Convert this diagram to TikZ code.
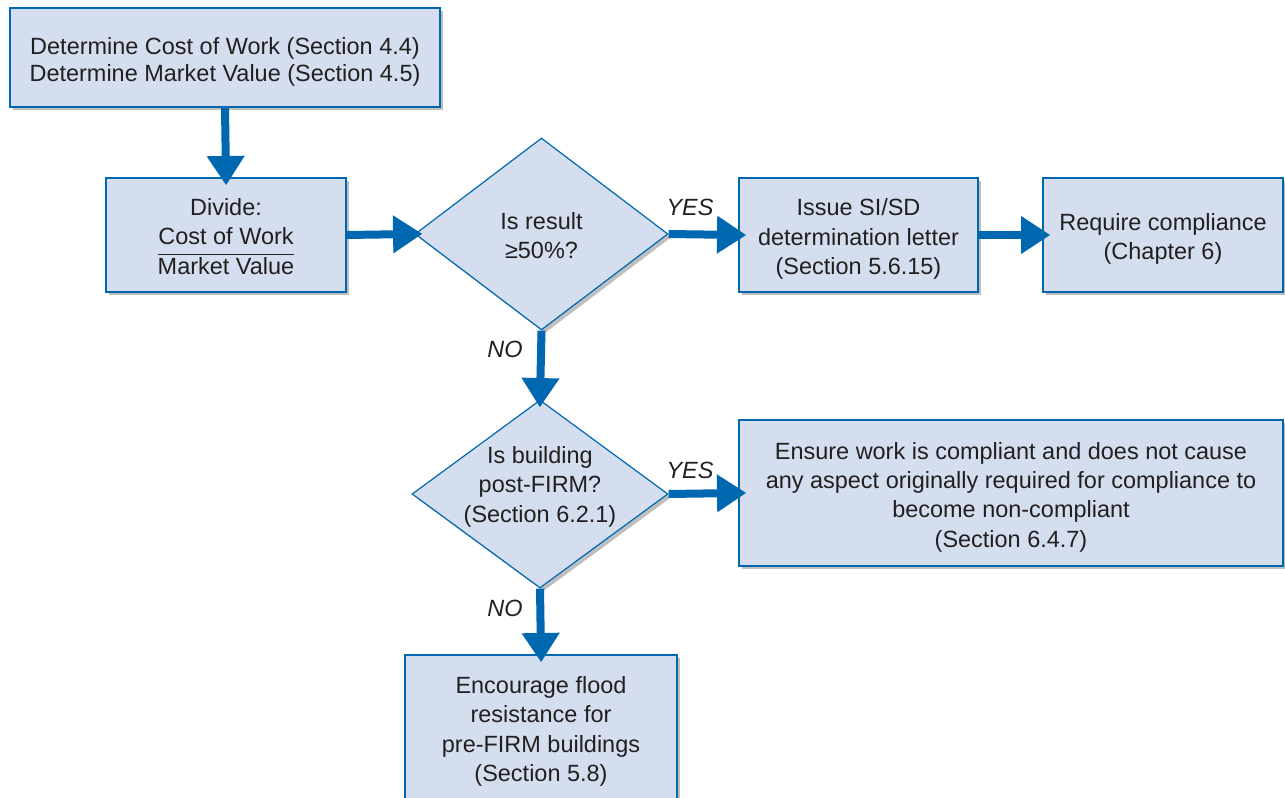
\documentclass[tikz,border=0pt]{standalone}
\usepackage{fontspec}
\setmainfont{Liberation Sans}
\usetikzlibrary{shapes.geometric,arrows.meta,shadows}
\definecolor{boxfill}{RGB}{212,222,239}
\definecolor{boxline}{RGB}{0,103,177}
\definecolor{txt}{RGB}{35,31,32}
\newcommand{\dtext}[2]{\makebox[0pt]{\raisebox{#1}[0pt][0pt]{\begin{tabular}{@{}c@{}}#2\end{tabular}}}}
\begin{document}
\begin{tikzpicture}[x=0.75pt,y=-0.75pt,
  every node/.style={font=\fontsize{17.6}{22}\selectfont, text=txt},
  shad/.style={drop shadow={shadow xshift=2.5pt,shadow yshift=-2.5pt,opacity=0.25,fill=black}},
  box/.style={draw=boxline, line width=1pt, fill=boxfill, inner sep=0pt, shad},
  dia/.style={diamond, draw=boxline, line width=0.9pt, fill=boxfill, inner sep=0pt, shad},
  flow/.style={draw=boxline, line width=6pt, -{Triangle[width=27pt,length=22pt]}, shorten >=-6pt},
  lab/.style={font=\itshape\fontsize{17.6}{20}\selectfont}]
\useasboundingbox (0,0) rectangle (1285,798);
\clip (0,0) rectangle (1285,798);
\node[box, minimum width=322.5pt, minimum height=74.25pt] (cost) at (225,57.5)
  {\dtext{-8pt}{Determine Cost of Work (Section 4.4)\\[-1.5pt]Determine Market Value (Section 4.5)}};
\node[box, minimum width=180pt, minimum height=85.5pt] (divide) at (226,235)
  {\dtext{-7.5pt}{Divide:\\Cost of Work\\ \hline Market Value}};
\node[dia, minimum width=189.75pt, minimum height=144pt] (res) at (541.5,234)
  {\dtext{-7.5pt}{Is result\\≥50\%?}};
\node[box, minimum width=179.25pt, minimum height=85.5pt] (issue) at (858.5,235)
  {\dtext{-7.5pt}{Issue SI/SD\\determination letter\\(Section 5.6.15)}};
\node[box, minimum width=180pt, minimum height=85.5pt] (req) at (1163,235)
  {\dtext{-7.5pt}{Require compliance\\(Chapter 6)}};
\node[dia, minimum width=192pt, minimum height=141pt] (post) at (540,494)
  {\dtext{1pt}{Is building\\post-FIRM?\\(Section 6.2.1)}};
\node[box, minimum width=408pt, minimum height=109.5pt] (ensure) at (1011,493)
  {\dtext{-7.5pt}{Ensure work is compliant and does not cause\\any aspect originally required for compliance to\\become non-compliant\\(Section 6.4.7)}};
\node[box, minimum width=204pt, minimum height=111.75pt] (enc) at (541,729.5)
  {\dtext{-6pt}{Encourage flood\\resistance for\\pre-FIRM buildings\\(Section 5.8)}};
\draw[flow] (cost.south) -- (divide.north);
\draw[flow] (divide.east) -- (res.west);
\draw[flow] (res.east) -- (issue.west);
\draw[flow] (issue.east) -- (req.west);
\draw[flow] (res.south) -- (post.north);
\draw[flow] (post.east) -- (ensure.west);
\draw[flow] (post.south) -- (enc.north);
\node[lab] (y1) at (690,207) {YES};
\node[lab] (n1) at (505,349) {NO};
\node[lab] (y2) at (690,470) {YES};
\node[lab] (n2) at (505,608) {NO};
\end{tikzpicture}
\end{document}
